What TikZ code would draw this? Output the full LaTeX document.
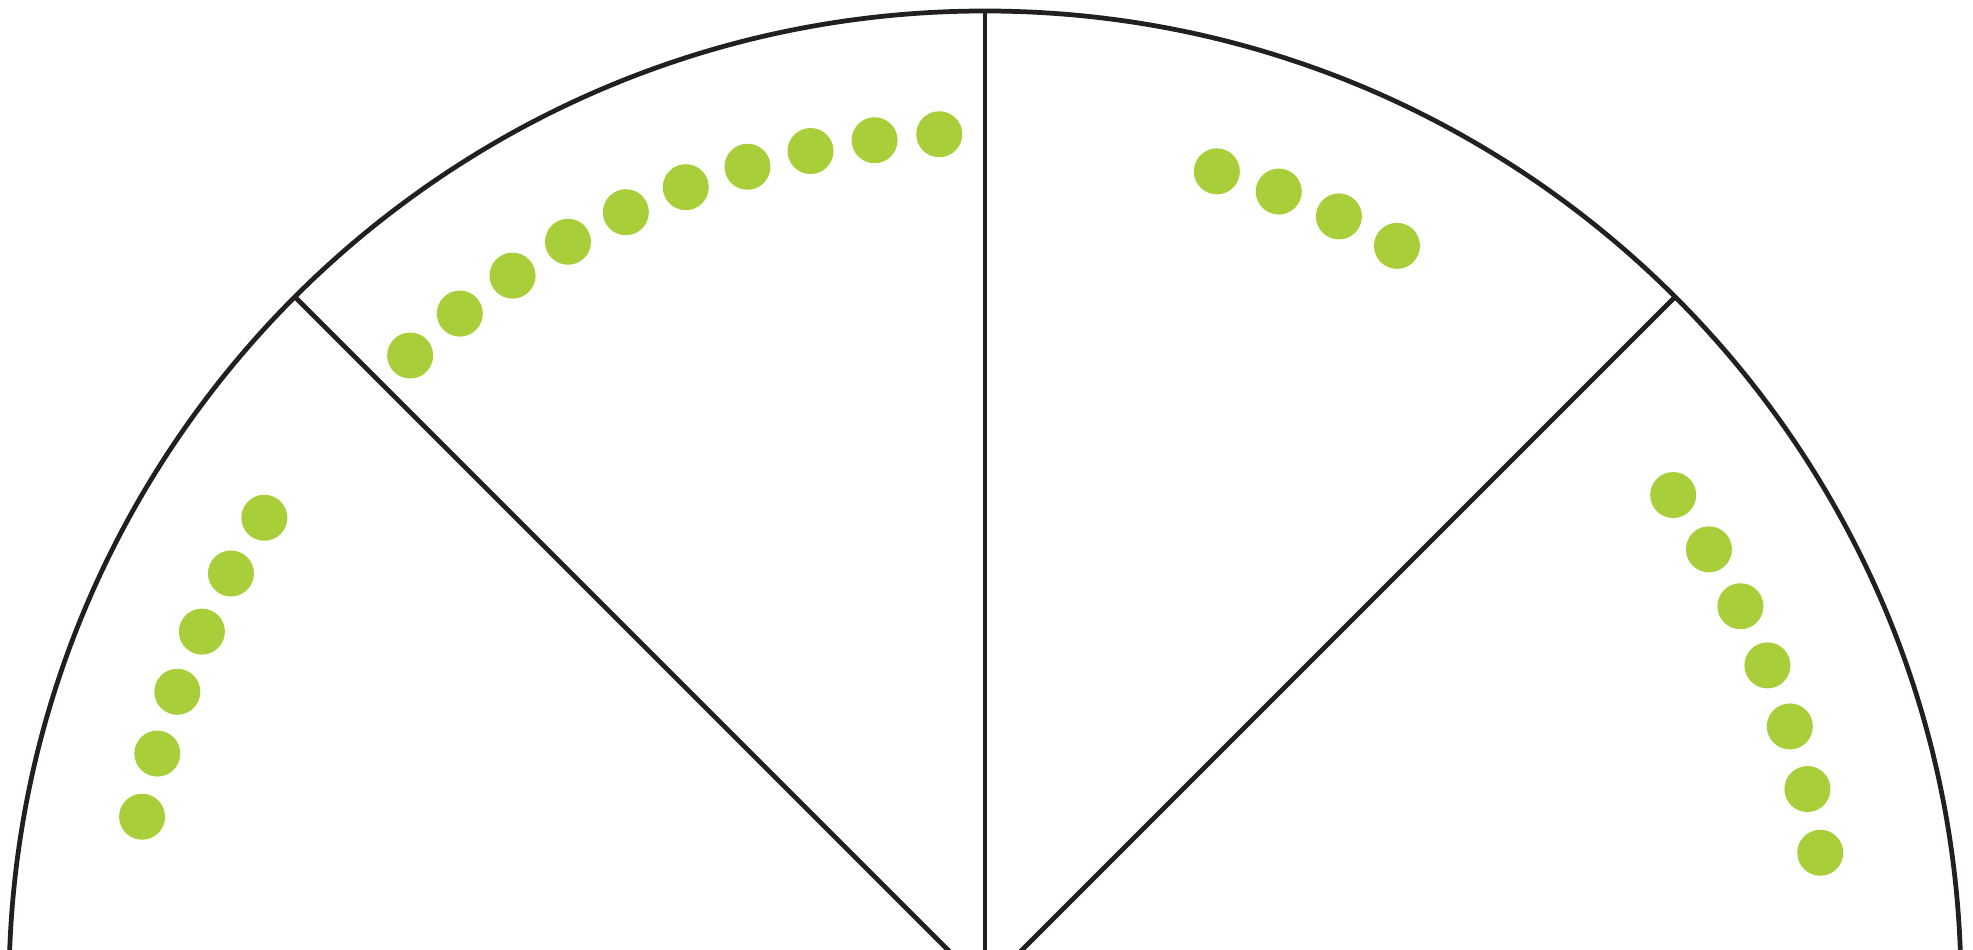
\documentclass[tikz,border=0pt]{standalone}
\usepackage{xcolor}
\definecolor{rimgray}{HTML}{231F20}
\definecolor{seedgreen}{HTML}{A8CE3A}

\begin{document}
\begin{tikzpicture}[
        rim/.style={draw=rimgray, line width=1.35pt},
        seed/.style={circle, fill=seedgreen, minimum size=0.46cm, inner sep=0pt}
    ]
%
    % Frame
    \clip (-9.85,0.38) rectangle (9.88,9.87);
    \coordinate (o) at (0,0);
    \coordinate (nw) at (135:9.76);
    \coordinate (n) at (90:9.76);
    \coordinate (ne) at (45:9.76);
    \coordinate (e) at (0:9.76);
%
    \draw[rim] (e) arc[start angle=0, end angle=180, radius=9.76];
    \draw[rim] (o) -- (nw);
    \draw[rim] (o) -- (n);
    \draw[rim] (o) -- (ne);
%
    % Seeds
    \foreach \i in {0,...,5}
        \node[seed] (left-\i) at ({146.93+4.33*\i}:8.60) {};
    \foreach \i in {0,...,9}
        \node[seed] (upleft-\i) at ({93.07+4.36*\i}:8.54) {};
    \foreach \i in {0,...,3}
        \node[seed] (upright-\i) at ({74.13-4.40*\i}:8.48) {};
    \foreach \i in {0,...,6}
        \node[seed] (right-\i) at ({35.56-4.405*\i}:8.46) {};
%
\end{tikzpicture}
\end{document}
